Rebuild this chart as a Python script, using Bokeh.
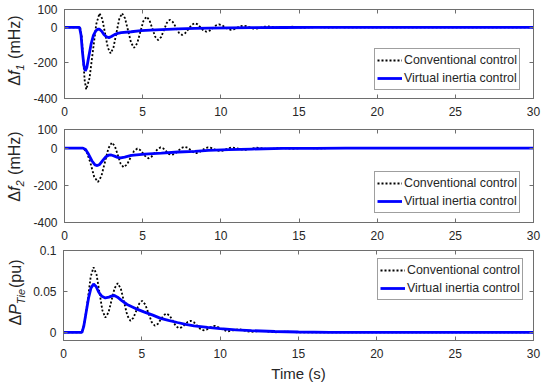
from bokeh.plotting import figure
from bokeh.layouts import column, row
from bokeh.models import Range1d, LinearAxis, FixedTicker, Legend, LegendItem, Div
from bokeh.embed import file_html
from bokeh.resources import INLINE

FONT = "Liberation Sans"
AX = "#6e6e6e"
TXT = "#262626"

# ---------------- data ----------------
x_ticks = [0, 5, 10, 15, 20, 25, 30]
f_ticks = [-400, -200, 0, 100]
f_tick_labels = ["-400", "-200", "0", "100"]
p_ticks = [0, 0.05, 0.1]
p_tick_labels = ["0", "0.05", "0.1"]
legend_labels = ["Conventional control", "Virtual inertia control"]
x_title = "Time (s)"
y_titles = ["Δ<i>f</i><sub><i>1</i></sub> (mHz)",
            "Δ<i>f</i><sub><i>2</i></sub> (mHz)",
            "Δ<i>P</i><sub><i>Tie</i></sub>(pu)"]

t_f1_conv = [0, 1.0, 1.1, 1.195, 1.29, 1.39, 1.6, 1.815, 2.03, 2.24, 2.42, 2.595, 2.77, 2.95,
             3.13, 3.315, 3.5, 3.68, 3.87, 4.065, 4.26, 4.45, 4.65, 4.845, 5.04, 5.24, 5.43,
             5.615, 5.8, 5.99, 6.18, 6.36, 6.545, 6.73, 6.93, 7.125, 7.32, 7.52, 7.72, 7.925,
             8.13, 8.33, 8.52, 8.705, 8.89, 9.08, 9.28, 9.48, 9.68, 9.88, 10.07, 10.26, 10.45,
             10.64, 10.84, 11.03, 11.23, 11.42, 11.62, 11.81, 12.0, 12.2, 12.4, 12.59, 12.79,
             12.98, 13.37, 13.76, 14.15, 14.54, 14.93, 15.32, 15.71, 16.1, 16.5, 16.9, 17.7, 18.5, 30]
f1_conv = [0, 0, -51, -175, -298, -349, -286, -135, 17, 79, 46, -34, -114, -147,
           -114, -34, 46, 79, 51, -18, -87, -115, -90, -28, 34, 60, 41,
           -6, -53, -72, -55, -15, 25, 42, 30, 0, -31, -43, -33, -10,
           13, 23, 16, -1, -18, -25, -19, -5, 10, 16, 12, 1, -10,
           -14, -11, -3, 6, 9, 6.5, 0.5, -5.5, -8, -6, -1.5, 3,
           5, 0.5, -4, -0.5, 3, 0.5, -2, 0, 1.5, 0, -1, 0.5, 0, 0]

t_f1_vic = [0, 0.96, 1.06, 1.15, 1.24, 1.33, 1.43, 1.55, 1.7, 1.85, 2.0, 2.12, 2.24, 2.38, 2.52,
            2.68, 2.84, 3.0, 3.2, 3.4, 3.63, 4.27, 4.9, 5.5, 6.2, 7.27, 8.33, 9.2, 10.5, 12, 14,
            16, 18, 30]
f1_vic = [0, 0, -45, -140, -215, -245, -225, -165, -95, -45, -20, -11, -11, -22, -40,
          -53, -58, -52, -41, -34, -30, -25, -19, -16, -13, -9, -6, -4.5, -3, -2, -1,
          -0.5, 0, 0]

t_f2_conv = [0, 1.18, 1.42, 1.66, 1.9, 2.14, 2.36, 2.585, 2.81, 3.03, 3.22, 3.405, 3.59, 3.78,
             4.0, 4.22, 4.44, 4.66, 4.84, 5.02, 5.2, 5.38, 5.57, 5.765, 5.96, 6.15, 6.32, 6.495,
             6.67, 6.84, 7.05, 7.265, 7.48, 7.69, 7.88, 8.065, 8.25, 8.44, 8.63, 8.815, 9.0,
             9.19, 9.38, 9.57, 9.76, 9.95, 10.14, 10.33, 10.53, 10.72, 11.11, 11.5, 11.89,
             12.28, 12.66, 13.05, 13.44, 13.83, 14.2, 14.6, 15.0, 15.4, 16.2, 17, 30]
f2_conv = [0, 0, -20, -80, -155, -182, -151, -76, -1, 30, 11, -36, -84, -103,
           -88, -52, -17, -2, -10, -28, -47, -55, -46, -25, -5, 4, -2, -16,
           -31, -37, -31, -15, 1, 7, 2, -10, -22, -27, -22, -11, -0.5,
           4, 1, -6, -13, -16, -13, -6.5, 0, 3, -3.5, -10, -4,
           2, -2, -6, -2.5, 1, -1, -3, -1, 0.5, -1.5, 0, 0]

t_f2_vic = [0, 1.18, 1.35, 1.55, 1.75, 1.95, 2.1, 2.25, 2.45, 2.65, 2.82, 2.99, 3.2, 3.4, 3.59,
            3.85, 4.27, 5.13, 6.2, 7.27, 8.33, 9.2, 10.5, 12, 14, 16, 18, 30]
f2_vic = [0, 0, -8, -35, -68, -90, -94, -88, -66, -46, -38, -37, -43, -50, -53,
          -48, -39, -32, -27, -21, -18, -12, -8, -5, -2, -1, 0, 0]

t_tie_conv = [0, 1.18, 1.36, 1.55, 1.735, 1.92, 2.11, 2.295, 2.48, 2.67, 2.87, 3.065, 3.26,
              3.46, 3.66, 3.865, 4.07, 4.27, 4.46, 4.645, 4.83, 5.02, 5.22, 5.425, 5.63, 5.83,
              6.02, 6.205, 6.39, 6.58, 6.78, 6.975, 7.17, 7.37, 7.56, 7.745, 7.93, 8.12, 8.32,
              8.525, 8.73, 8.93, 9.12, 9.3, 9.49, 9.68, 10.06, 10.45, 10.82, 11.2, 11.57,
              11.95, 12.32, 12.7, 13.07, 13.45, 14.2, 15, 30]
tie_conv = [0, 0, 0.014, 0.040, 0.068, 0.0795, 0.0705, 0.0488, 0.027, 0.018, 0.0241, 0.039, 0.0539,
            0.060, 0.0533, 0.037, 0.0207, 0.014, 0.0176, 0.0263, 0.0349, 0.0385, 0.034, 0.0233, 0.0125, 0.008,
            0.0102, 0.0155, 0.0208, 0.023, 0.0204, 0.014, 0.0076, 0.005, 0.0063, 0.0095, 0.0127, 0.014, 0.0123,
            0.0083, 0.0042, 0.0025, 0.0033, 0.0053, 0.0072, 0.008, 0.0045, 0.001, 0.0025, 0.004, 0.002,
            0.0005, 0.0012, 0.002, 0.001, 0, 0.0008, 0, 0]

t_tie_vic = [0, 1.18, 1.3, 1.45, 1.6, 1.75, 1.92, 2.08, 2.25, 2.45, 2.67, 2.9, 3.1, 3.25, 3.45,
             3.7, 4.06, 4.6, 5.13, 5.7, 6.2, 6.7, 7.27, 7.8, 8.33, 9.2, 10, 11, 12, 13.5, 15, 17, 30]
tie_vic = [0, 0, 0.008, 0.025, 0.042, 0.054, 0.059, 0.056, 0.049, 0.044, 0.042, 0.043, 0.0445,
           0.045, 0.043, 0.039, 0.034, 0.029, 0.025, 0.021, 0.017, 0.0145, 0.012, 0.0098, 0.008,
           0.006, 0.0045, 0.003, 0.002, 0.001, 0.0004, 0, 0]

# ---------------- layout ----------------
DIV_W = 30
W = 520
LEFT = 33
RIGHT = 17


def style_axis(ax, labels=True):
    ax.axis_line_color = AX
    ax.major_tick_line_color = AX
    ax.major_tick_in = 4
    ax.major_tick_out = 0
    ax.minor_tick_line_color = None
    ax.major_label_text_font = FONT
    ax.major_label_text_color = TXT
    if labels:
        ax.major_label_text_font_size = "12px"
    else:
        ax.major_label_text_font_size = "0px"
        ax.major_label_text_color = None
        ax.major_label_standoff = 0


def y_title_div(html, height, cx, cy):
    inner = ("<div style=\"width:%dpx;height:%dpx;display:flex;align-items:center;"
             "justify-content:center;\"><span style=\"display:inline-block;transform:rotate(-90deg);"
             "white-space:nowrap;font-family:'%s';font-size:16px;color:%s;line-height:1;\">%s</span></div>"
             % (2 * cx, 2 * cy, FONT, TXT,
                html.replace("<sub>", "<sub style=\"font-size:11px;vertical-align:-4px;margin-right:1px;\">")))
    return Div(text=inner, width=DIV_W, height=height, margin=0)


def make_panel(height, top, bottom, yr, yticks, ylabels, conv, vic, leg_xy):
    p = figure(width=W, height=height, x_range=Range1d(0, 30), y_range=Range1d(*yr),
               output_backend="svg", toolbar_location=None,
               min_border_left=LEFT, min_border_right=RIGHT,
               min_border_top=top, min_border_bottom=bottom)
    p.xgrid.visible = False
    p.ygrid.visible = False
    p.outline_line_color = AX
    p.background_fill_color = "white"
    p.border_fill_color = "white"

    r1 = p.line(conv[0], conv[1], line_color="black", line_width=1.8, line_dash="2 2")
    r2 = p.line(vic[0], vic[1], line_color="#0000ff", line_width=2.8)

    xa = p.xaxis[0]
    style_axis(xa)
    xa.ticker = FixedTicker(ticks=x_ticks)
    xa.major_label_standoff = 8
    ya = p.yaxis[0]
    style_axis(ya)
    ya.ticker = FixedTicker(ticks=yticks)
    ya.major_label_overrides = {v: s for v, s in zip(yticks, ylabels)}
    ya.major_label_standoff = 7

    ta = LinearAxis(ticker=FixedTicker(ticks=x_ticks))
    style_axis(ta, labels=False)
    p.add_layout(ta, "above")
    ra = LinearAxis(ticker=FixedTicker(ticks=yticks))
    style_axis(ra, labels=False)
    p.add_layout(ra, "right")

    leg = Legend(items=[LegendItem(label=legend_labels[0], renderers=[r1]),
                        LegendItem(label=legend_labels[1], renderers=[r2])],
                 location=leg_xy)
    leg.label_text_font = FONT
    leg.label_text_font_size = "12.4px"
    leg.label_text_color = TXT
    leg.label_standoff = 2
    leg.glyph_width = 25
    leg.glyph_height = 18
    leg.label_height = 18
    leg.padding = 2
    leg.spacing = 0
    leg.margin = 0
    leg.border_line_color = "#404040"
    leg.border_line_width = 1
    leg.background_fill_color = "white"
    leg.background_fill_alpha = 1
    p.add_layout(leg)
    return p, xa


p1, _ = make_panel(120, 9, 22, (-400, 100), f_ticks, f_tick_labels,
                   (t_f1_conv, f1_conv), (t_f1_vic, f1_vic), (310, 8))
p2, _ = make_panel(125, 9, 23, (-400, 100), f_ticks, f_tick_labels,
                   (t_f2_conv, f2_conv), (t_f2_vic, f2_vic), (310, 9))
p3, xa3 = make_panel(141, 5, 46, (-0.01, 0.1), p_ticks, p_tick_labels,
                     (t_tie_conv, tie_conv), (t_tie_vic, tie_vic), (314, 40))
xa3.axis_label = x_title
xa3.axis_label_text_font = FONT
xa3.axis_label_text_font_size = "15px"
xa3.axis_label_text_font_style = "normal"
xa3.axis_label_text_color = TXT
xa3.axis_label_standoff = 4

d1 = y_title_div(y_titles[0], 120, 16, 50)
d2 = y_title_div(y_titles[1], 125, 16, 46)
d3 = y_title_div(y_titles[2], 141, 17, 47)

layout = column(row(d1, p1, spacing=0), row(d2, p2, spacing=0), row(d3, p3, spacing=0), spacing=0)
open("out.html", "w").write(file_html(layout, INLINE))
